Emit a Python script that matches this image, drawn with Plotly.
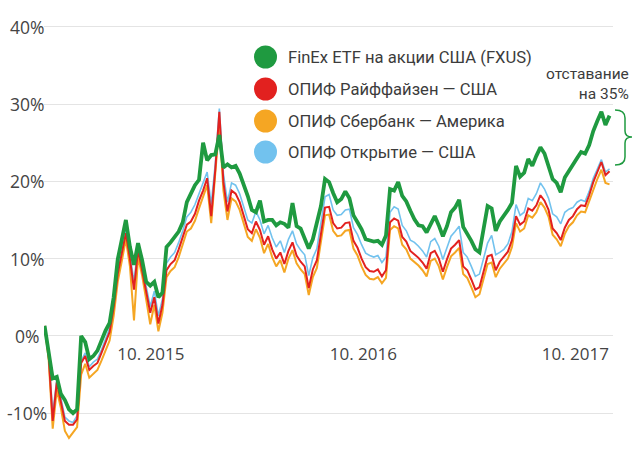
import pandas as pd
import plotly.graph_objects as go

# weekly observations, April 2015 - November 2017 (cumulative return, %)
dates = pd.date_range("2015-04-01", periods=140, freq="7D")

fxus = [1.3, -1.8, -5.5, -5.3, -7.5, -8.3, -9.5, -10.0, -9.5, 0.0,
        -0.8, -3.0, -2.6, -1.9, -0.5, 0.7, 1.7, 5.0, 9.9, 12.3,
        15.0, 11.5, 9.2, 12.0, 9.8, 7.0, 6.5, 7.0, 5.0, 5.6,
        11.5, 12.1, 12.8, 13.5, 14.7, 17.3, 18.4, 19.5, 20.2, 25.0,
        22.7, 23.4, 23.5, 26.0, 21.8, 22.2, 21.8, 22.0, 21.0, 19.7,
        18.1, 16.3, 16.0, 17.5, 14.8, 15.0, 15.0, 14.3, 14.7, 14.5,
        14.0, 17.2, 14.2, 13.9, 12.5, 11.3, 12.5, 14.5, 16.8, 20.3,
        19.9, 18.5, 17.3, 17.7, 18.7, 17.8, 15.6, 14.7, 13.8, 12.5,
        12.4, 12.2, 12.3, 11.8, 13.0, 19.0, 18.8, 19.9, 18.1, 17.4,
        16.2, 15.1, 14.3, 14.2, 13.4, 14.6, 15.5, 14.3, 12.9, 14.2,
        16.0, 16.6, 17.6, 14.1, 13.3, 12.3, 11.2, 10.8, 13.8, 16.8,
        16.5, 13.6, 14.8, 15.5, 16.3, 17.2, 22.0, 20.6, 21.1, 22.9,
        22.0, 23.3, 24.4, 23.6, 21.9, 20.3, 19.8, 18.6, 20.5, 21.4,
        22.2, 23.0, 23.8, 23.6, 24.7, 26.5, 27.8, 29.0, 27.3, 28.5]

raif = [1.3, -2.5, -11.0, -6.0, -8.5, -11.0, -11.5, -11.5, -10.8, -3.5,
        -2.6, -4.4, -3.9, -3.5, -2.2, -0.8, 0.5, 3.7, 8.0, 10.7,
        13.3, 10.0, 6.0, 11.2, 8.6, 5.6, 3.0, 5.0, 1.6, 4.0,
        8.5, 9.3, 9.8, 11.2, 12.7, 14.4, 14.8, 15.8, 17.5, 18.8,
        20.4, 15.5, 21.5, 29.0, 19.9, 16.1, 18.8, 18.4, 17.3, 15.5,
        13.8, 13.3, 14.8, 13.7, 11.8, 12.9, 11.2, 10.0, 10.8, 9.3,
        11.0, 12.1, 10.4, 9.6, 9.0, 6.2, 8.6, 9.8, 13.0, 16.6,
        16.7, 14.6, 13.9, 14.0, 14.6, 14.7, 12.3, 11.4, 10.0, 8.9,
        8.4, 8.3, 8.6, 7.7, 8.5, 14.7, 15.2, 14.9, 12.8, 12.2,
        11.0, 10.6, 10.1, 9.5, 8.7, 10.7, 11.0, 10.0, 8.3, 9.9,
        11.3, 11.8, 12.4, 9.0, 8.5, 7.3, 6.0, 6.3, 8.2, 10.3,
        10.5, 8.5, 9.6, 10.2, 10.9, 12.4, 15.5, 14.4, 14.8, 16.5,
        16.2, 16.9, 18.2, 17.5, 16.3, 13.9, 13.3, 12.4, 14.0, 15.0,
        15.5, 16.4, 16.9, 16.8, 18.2, 19.9, 21.2, 22.5, 20.8, 21.3]

sber = [1.3, -3.0, -12.0, -7.0, -9.3, -12.3, -13.2, -12.5, -11.8, -5.0,
        -3.6, -5.4, -4.9, -4.4, -3.2, -1.8, -0.6, 2.6, 7.0, 9.7,
        12.5, 9.0, 2.0, 10.2, 7.8, 4.7, 1.5, 4.0, 0.6, 3.0,
        7.6, 8.4, 8.9, 10.2, 11.8, 13.5, 13.9, 14.9, 16.5, 17.9,
        19.5, 14.6, 20.6, 27.5, 18.8, 15.0, 17.8, 17.4, 16.3, 14.5,
        12.8, 12.3, 13.8, 12.7, 10.7, 11.9, 10.2, 9.0, 9.8, 8.2,
        10.0, 11.1, 9.4, 8.6, 8.0, 5.3, 7.6, 8.8, 12.0, 15.6,
        15.7, 13.6, 12.9, 13.0, 13.6, 13.7, 11.3, 10.4, 9.0, 7.9,
        7.4, 7.3, 7.6, 6.8, 7.5, 13.7, 14.2, 13.9, 11.8, 11.2,
        10.0, 9.6, 9.1, 8.5, 7.7, 9.7, 10.0, 9.0, 7.3, 8.9,
        10.3, 10.8, 11.4, 8.0, 7.5, 6.3, 5.0, 5.4, 7.2, 9.3,
        9.5, 7.6, 8.7, 9.3, 10.0, 11.5, 14.6, 13.5, 13.9, 15.6,
        15.3, 16.0, 17.3, 16.6, 15.4, 13.1, 12.5, 11.6, 13.2, 14.2,
        14.7, 15.6, 16.1, 16.0, 17.4, 19.0, 20.3, 21.5, 19.8, 19.6]

otkr = [1.3, -2.2, -10.0, -5.7, -8.0, -10.5, -11.0, -11.2, -10.3, -3.2,
        -2.2, -4.0, -3.4, -3.0, -1.8, -0.4, 1.0, 4.2, 8.6, 11.2,
        13.8, 10.6, 7.0, 11.7, 9.2, 6.3, 3.8, 5.8, 2.6, 4.8,
        9.4, 10.2, 10.8, 12.1, 13.6, 15.4, 16.0, 17.0, 18.5, 19.8,
        21.2, 17.0, 22.3, 29.4, 21.0, 17.3, 19.8, 19.5, 18.4, 16.7,
        15.0, 14.6, 16.1, 15.0, 13.2, 14.3, 12.7, 11.5, 12.3, 10.8,
        12.5, 13.6, 11.9, 11.1, 10.5, 7.8, 10.1, 11.3, 14.5, 18.0,
        18.3, 16.3, 15.6, 15.7, 16.3, 16.4, 14.0, 13.1, 11.8, 10.7,
        10.4, 10.2, 10.4, 9.5, 10.2, 16.0, 16.7, 16.4, 14.3, 13.6,
        12.4, 12.1, 11.6, 11.0, 10.2, 12.2, 12.6, 11.6, 9.9, 11.5,
        12.9, 13.5, 14.2, 10.8, 10.2, 9.0, 7.7, 8.0, 9.9, 12.0,
        13.0, 10.5, 10.8, 11.2, 11.9, 13.5, 17.0, 15.6, 16.0, 17.8,
        17.5, 18.4, 19.8, 19.0, 17.8, 15.8, 15.4, 14.5, 16.0, 16.4,
        16.6, 17.3, 17.6, 17.4, 18.7, 20.4, 21.6, 22.8, 21.2, 21.6]

series_names = ["FinEx ETF на акции США (FXUS)", "ОПИФ Райффайзен — США",
                "ОПИФ Сбербанк — Америка", "ОПИФ Открытие — США"]
series_colors = ["#1f9a40", "#e2211f", "#f5a623", "#72c2ee"]

y_tick_vals = [-10, 0, 10, 20, 30, 40]
y_tick_text = ["-10%", "0%", "10%", "20%", "30%", "40%"]
x_tick_vals = ["2015-10-01", "2016-10-01", "2017-10-01"]
x_tick_text = ["10. 2015", "10. 2016", "10. 2017"]
gap_text = "отставание<br>на 35%"

W, H = 636, 472
PL, PR, PT, PB = 44, 613, 19, 448          # plot box in page pixels
ML, MT, MR, MB = PL, PT, W - PR, H - PB
YMIN, YMAX = -14.5, 41
XMIN, XMAX = "2015-03-31", "2017-12-05"


def px(x):
    return (x - PL) / (PR - PL)


def py(y):
    return (PB - y) / (PB - PT)


fig = go.Figure()
order = [(2, sber, 2.0), (3, otkr, 1.6), (1, raif, 2.0), (0, fxus, 3.8)]
for idx, vals, lw in order:
    fig.add_trace(go.Scatter(x=dates, y=vals, mode="lines", name=series_names[idx],
                             line=dict(color=series_colors[idx], width=lw),
                             showlegend=False, hoverinfo="skip"))

FONT = "Roboto, 'Noto Sans', sans-serif"
NUMFONT = "'Open Sans', 'Noto Sans', sans-serif"
TXT = "#3c3c3c"

# y tick labels, centred like the original
for v, s in zip(y_tick_vals, y_tick_text):
    fig.add_annotation(xref="paper", yref="y", x=px(27), y=v, xanchor="center",
                       yanchor="middle", showarrow=False, text=s,
                       font=dict(family=NUMFONT, size=17.5, color="#444"))

# manual legend with large dots
leg_y = [57, 89, 121, 152]
for i, name in enumerate(series_names):
    cy = leg_y[i]
    fig.add_shape(type="circle", xref="paper", yref="paper",
                  x0=px(254), x1=px(277), y0=py(cy + 11.5), y1=py(cy - 11.5),
                  fillcolor=series_colors[i], line=dict(width=0))
    fig.add_annotation(xref="paper", yref="paper", x=px(286), y=py(cy),
                       xanchor="left", yanchor="middle", showarrow=False,
                       text=name, font=dict(family=FONT, size=16.6, color=TXT))

# gap annotation and brace
fig.add_annotation(xref="paper", yref="paper", x=px(631), y=py(84),
                   xanchor="right", yanchor="middle", showarrow=False, align="right",
                   text=gap_text, font=dict(family=FONT, size=15.5, color=TXT))
bx0, bx1, bx2 = px(615), px(625), px(632)
t, t2, m1, m, m2, b2, b = py(110), py(118), py(131), py(137), py(143), py(157), py(165)
path = (f"M {bx0},{t} Q {bx1},{t} {bx1},{t2} L {bx1},{m1} Q {bx1},{m} {bx2},{m} "
        f"Q {bx1},{m} {bx1},{m2} L {bx1},{b2} Q {bx1},{b} {bx0},{b}")
fig.add_shape(type="path", xref="paper", yref="paper", path=path,
              line=dict(color="#1f9a40", width=1.5))

fig.update_layout(
    width=W, height=H, margin=dict(l=ML, r=MR, t=MT, b=MB, autoexpand=False),
    paper_bgcolor="white", plot_bgcolor="white",
    xaxis=dict(range=[XMIN, XMAX], tickvals=x_tick_vals, ticktext=x_tick_text,
               showgrid=False, zeroline=False, showline=False, ticks="",
               anchor="free", position=(0 - YMIN) / (YMAX - YMIN),
               ticklabelstandoff=6, automargin=False,
               tickfont=dict(family=NUMFONT, size=17, color="#444")),
    yaxis=dict(range=[YMIN, YMAX], tickvals=y_tick_vals,
               showgrid=True, gridcolor="#e4e4e4", gridwidth=1.2, zeroline=False,
               showline=False, ticks="", showticklabels=False, automargin=False),
)

fig.write_html("out.html", config={"displayModeBar": False},
               post_script="document.body.style.margin='0px';")
